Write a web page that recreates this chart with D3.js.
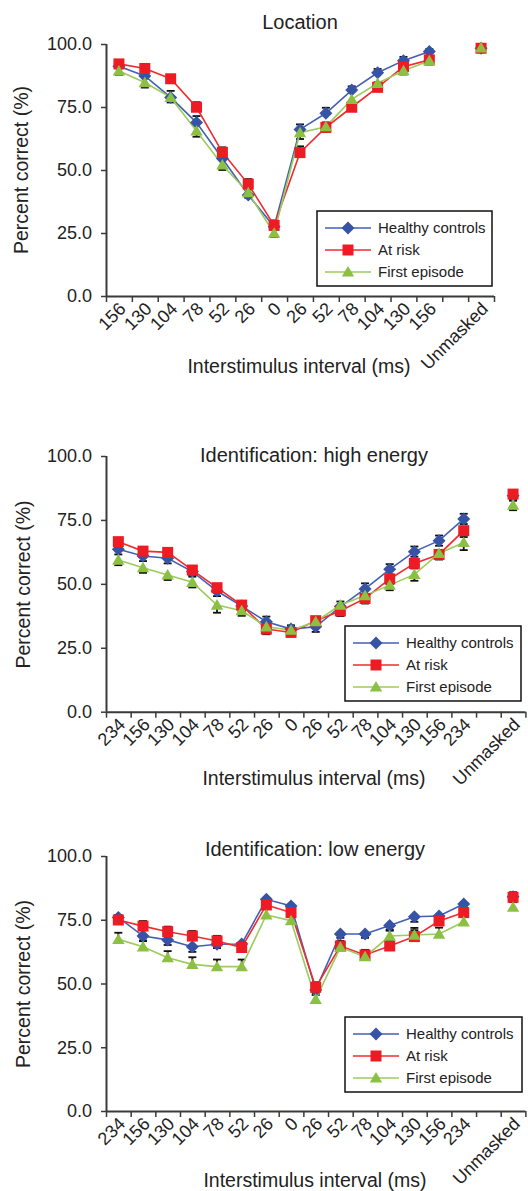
<!DOCTYPE html>
<html><head><meta charset="utf-8">
<script src="https://cdn.jsdelivr.net/npm/d3@7"></script>
<style>
html,body{margin:0;padding:0;background:#fff;}
svg{display:block;}
text{fill:#222;}
</style></head>
<body>
<svg id="c" width="528" height="1191"></svg>
<script>
// ---------- DATA ----------
const seriesNames = ["Healthy controls", "At risk", "First episode"];

const locCats = ["156","130","104","78","52","26","0","26","52","78","104","130","156","","Unmasked"];
const locHC = [91.2, 87.3, 78.8, 68.8, 54.6, 40.1, 27.5, 66.1, 72.5, 81.7, 88.6, 93.4, 97.0, null, 98.3];
const locAR = [92.1, 90.3, 86.2, 74.9, 57.0, 44.4, 28.0, 56.9, 66.9, 74.9, 82.8, 91.0, 93.7, null, 98.3];
const locFE = [89.3, 84.7, 78.8, 65.5, 52.0, 41.0, 24.9, 64.8, 67.2, 78.0, 84.4, 89.4, 93.4, null, 98.5];
const locHCerr = [1.5, 2.0, 2.6, 2.6, 2.0, 2.2, 1.5, 2.0, 2.2, 1.5, 1.5, 1.5, 1.0, null, 1.0];
const locARerr = [1.5, 1.5, 1.5, 2.0, 2.0, 2.0, 2.0, 2.5, 2.0, 2.0, 2.0, 2.0, 1.5, null, 1.0];
const locFEerr = [1.5, 2.0, 2.0, 2.3, 2.0, 2.0, 1.5, 2.5, 2.0, 2.0, 2.0, 1.5, 1.5, null, 1.0];

const idCats = ["234","156","130","104","78","52","26","0","26","52","78","104","130","156","234","","Unmasked"];
const hiHC = [63.5, 60.9, 60.0, 54.8, 47.2, 41.3, 35.2, 32.3, 33.2, 41.1, 48.0, 55.7, 62.6, 66.9, 75.4, null, 84.5];
const hiAR = [66.5, 62.8, 62.3, 55.4, 48.5, 41.7, 32.3, 31.0, 35.6, 39.4, 44.3, 51.9, 58.0, 61.5, 70.8, null, 85.1];
const hiFE = [59.3, 56.3, 53.5, 50.6, 41.7, 39.5, 33.2, 31.9, 35.2, 41.7, 45.4, 49.5, 53.7, 61.9, 66.2, null, 80.8];
const hiHCerr = [2.0, 2.0, 2.0, 2.0, 2.0, 2.0, 2.0, 1.5, 2.0, 2.0, 2.2, 2.0, 2.0, 2.0, 2.0, null, 2.0];
const hiARerr = [2.0, 2.0, 2.0, 2.0, 2.0, 2.0, 2.0, 1.5, 2.0, 2.0, 2.0, 2.0, 2.0, 2.0, 2.5, null, 2.0];
const hiFEerr = [2.0, 2.0, 2.0, 2.0, 3.0, 2.0, 2.0, 1.5, 2.0, 2.0, 2.0, 2.0, 2.5, 2.0, 3.0, null, 2.0];

const loHC = [75.9, 68.6, 67.1, 64.4, 65.4, 65.5, 83.0, 80.4, 47.5, 69.4, 69.4, 72.7, 76.2, 76.5, 81.2, null, 84.0];
const loAR = [74.9, 72.5, 70.3, 68.6, 66.7, 64.1, 80.8, 77.8, 48.5, 64.7, 61.2, 64.7, 68.4, 74.5, 77.8, null, 83.8];
const loFE = [67.3, 64.4, 60.1, 57.5, 56.6, 56.6, 76.9, 74.6, 43.8, 64.2, 60.5, 68.6, 69.0, 69.4, 74.2, null, 79.9];
const loHCerr = [1.5, 2.0, 2.0, 2.0, 1.5, 1.5, 1.5, 1.5, 2.0, 1.5, 1.5, 2.0, 2.0, 2.0, 1.5, null, 1.5];
const loARerr = [2.0, 2.0, 2.0, 2.0, 2.0, 2.0, 2.0, 2.0, 2.0, 2.0, 2.0, 2.0, 2.5, 2.5, 2.0, null, 2.0];
const loFEerr = [2.6, 2.5, 2.6, 2.8, 2.8, 2.8, 2.5, 2.5, 2.5, 2.0, 2.0, 2.5, 2.8, 2.5, 2.0, null, 2.0];

const yTicks = [0, 25, 50, 75, 100];

// ---------- STYLE / LAYOUT ----------
const markerColors = ["#3653a6", "#ed1c24", "#8cc043"];
const lineColors = ["#4260b3", "#ef2b2f", "#9ccb5e"];
const axisColor = "#3a3a3a";
const fontMain = "'Liberation Sans', Arial, sans-serif";
const fontTick = "'Liberation Sans Narrow', 'Liberation Sans', Arial, sans-serif";

const charts = [
  { title: "Location", cats: locCats, vals: [locHC, locAR, locFE], errs: [locHCerr, locARerr, locFEerr],
    errDir: [[1], [1], [-1]],
    top: 44, bottom: 296, left: 106, right: 494,
    titleX: 300, titleY: 29, xTitleX: 299, xTitleY: 373, yTitleX: 28, yTitleY: 170,
    legend: { x: 317, y: 211, w: 175, h: 75 } },
  { title: "Identification: high energy", cats: idCats, vals: [hiHC, hiAR, hiFE], errs: [hiHCerr, hiARerr, hiFEerr],
    errDir: [[1, -1], [-1], [-1]],
    top: 456, bottom: 711.7, left: 106, right: 525.4,
    titleX: 314, titleY: 462, xTitleX: 314, xTitleY: 785, yTitleX: 30, yTitleY: 584.5,
    legend: { x: 345, y: 626, w: 176, h: 75 } },
  { title: "Identification: low energy", cats: idCats, vals: [loHC, loAR, loFE], errs: [loHCerr, loARerr, loFEerr],
    errDir: [[-1], [1], [1]],
    top: 856, bottom: 1111, left: 106, right: 525.4,
    titleX: 315, titleY: 856, xTitleX: 315, xTitleY: 1187, yTitleX: 30, yTitleY: 984,
    legend: { x: 345, y: 1017, w: 177, h: 75 } }
];

const svg = d3.select("#c");

function markerPath(k) {
  if (k === 0) return "M0,-6.5L6.5,0L0,6.5L-6.5,0Z";
  if (k === 1) return "M-5.5,-5.5H5.5V5.5H-5.5Z";
  return "M0,-6L6.2,4.6H-6.2Z";
}

charts.forEach(c => {
  const g = svg.append("g");
  const n = c.cats.length;
  const x = d3.scaleLinear().domain([0, n]).range([c.left, c.right]);
  const y = d3.scaleLinear().domain([0, 100]).range([c.bottom, c.top]);

  // y axis
  const ya = g.append("g").attr("transform", `translate(${c.left},0)`)
    .call(d3.axisLeft(y).tickValues(yTicks).tickFormat(d3.format(".1f")).tickSize(5).tickPadding(9));
  ya.select(".domain").attr("stroke", axisColor).attr("stroke-width", 2).attr("d", `M0.5,${c.bottom}V${c.top}`);
  ya.selectAll(".tick line").attr("stroke", axisColor).attr("stroke-width", 1.5);
  ya.selectAll(".tick text").style("font-family", fontTick).style("font-size", "18px").attr("fill", "#222");

  // x axis (boundary ticks)
  const xa = g.append("g").attr("transform", `translate(0,${c.bottom})`)
    .call(d3.axisBottom(x).tickValues(d3.range(n + 1)).tickFormat("").tickSize(6));
  xa.select(".domain").attr("stroke", axisColor).attr("stroke-width", 2).attr("d", `M${c.left},0.5H${c.right}`);
  xa.selectAll(".tick line").attr("stroke", axisColor).attr("stroke-width", 1.5);

  // category labels rotated
  g.append("g").selectAll("text").data(c.cats).join("text")
    .attr("transform", (d, i) => `translate(${x(i + 0.5) + 8},${c.bottom + 14}) rotate(-45)`)
    .attr("text-anchor", "end")
    .style("font-family", fontTick).style("font-size", "18px")
    .text(d => d);

  // titles
  g.append("text").attr("x", c.titleX).attr("y", c.titleY).attr("text-anchor", "middle")
    .style("font-family", fontMain).style("font-size", "20px").text(c.title);
  g.append("text").attr("x", c.xTitleX).attr("y", c.xTitleY).attr("text-anchor", "middle")
    .style("font-family", fontMain).style("font-size", "19.5px").text("Interstimulus interval (ms)");
  g.append("text").attr("transform", `translate(${c.yTitleX},${c.yTitleY}) rotate(-90)`).attr("text-anchor", "middle")
    .style("font-family", fontMain).style("font-size", "19.5px").text("Percent correct (%)");

  // error bars (drawn behind markers, one- or two-sided)
  c.vals.forEach((vals, k) => {
    const errs = c.errs[k];
    const eg = g.append("g").attr("stroke", "#111").attr("stroke-width", 1.8);
    vals.forEach((v, i) => {
      if (v == null) return;
      const cx = x(i + 0.5);
      c.errDir[k].forEach(dir => {
        const ye = y(v + dir * errs[i]);
        eg.append("line").attr("x1", cx).attr("x2", cx).attr("y1", y(v)).attr("y2", ye);
        eg.append("line").attr("x1", cx - 4).attr("x2", cx + 4).attr("y1", ye).attr("y2", ye);
      });
    });
  });

  // lines + markers
  c.vals.forEach((vals, k) => {
    const line = d3.line().defined(d => d != null).x((d, i) => x(i + 0.5)).y(d => y(d));
    g.append("path").datum(vals).attr("d", line).attr("fill", "none")
      .attr("stroke", lineColors[k]).attr("stroke-width", 1.6);
  });
  c.vals.forEach((vals, k) => {
    g.append("g").selectAll("path").data(vals.map((v, i) => ({ v, i })).filter(d => d.v != null)).join("path")
      .attr("d", markerPath(k))
      .attr("transform", d => `translate(${x(d.i + 0.5)},${y(d.v)})`)
      .attr("fill", markerColors[k]);
  });

  // legend
  const L = c.legend;
  const lg = g.append("g").attr("transform", `translate(${L.x},${L.y})`);
  lg.append("rect").attr("width", L.w).attr("height", L.h).attr("fill", "#fff")
    .attr("stroke", "#111").attr("stroke-width", 1.5);
  seriesNames.forEach((name, k) => {
    const ry = 17 + k * 22;
    lg.append("line").attr("x1", 8).attr("x2", 54).attr("y1", ry).attr("y2", ry)
      .attr("stroke", lineColors[k]).attr("stroke-width", 1.6);
    lg.append("path").attr("d", markerPath(k)).attr("transform", `translate(31,${ry})`).attr("fill", markerColors[k]);
    lg.append("text").attr("x", 61).attr("y", ry).attr("dy", "0.35em")
      .style("font-family", fontMain).style("font-size", "15px").text(name);
  });
});
</script>
</body></html>
